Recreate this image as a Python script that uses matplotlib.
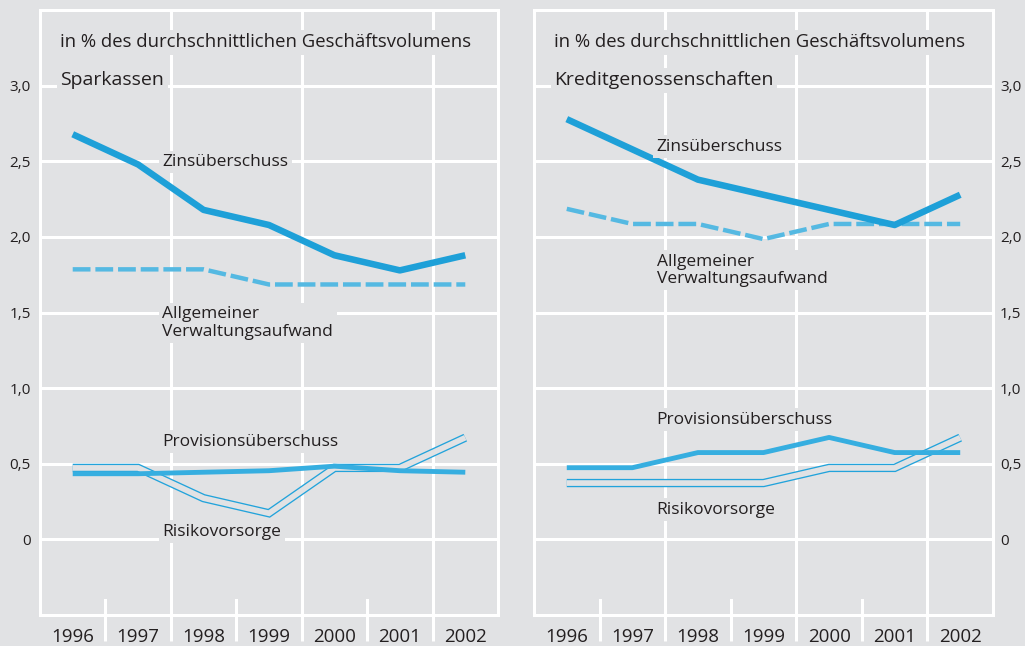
import matplotlib.pyplot as plt
from matplotlib.transforms import ScaledTranslation

plt.rcParams['font.family'] = ['Open Sans', 'DejaVu Sans']

years = [1996, 1997, 1998, 1999, 2000, 2001, 2002]

# Sparkassen
spk_zins = [2.7, 2.5, 2.2, 2.1, 1.9, 1.8, 1.9]
spk_verw = [1.8, 1.8, 1.8, 1.7, 1.7, 1.7, 1.7]
spk_prov = [0.45, 0.45, 0.46, 0.47, 0.5, 0.47, 0.46]
spk_risk = [0.5, 0.5, 0.3, 0.2, 0.5, 0.5, 0.7]

# Kreditgenossenschaften
kg_zins = [2.8, 2.6, 2.4, 2.3, 2.2, 2.1, 2.3]
kg_verw = [2.2, 2.1, 2.1, 2.0, 2.1, 2.1, 2.1]
kg_prov = [0.49, 0.49, 0.59, 0.59, 0.69, 0.59, 0.59]
kg_risk = [0.4, 0.4, 0.4, 0.4, 0.5, 0.5, 0.7]

yticks = [0, 0.5, 1.0, 1.5, 2.0, 2.5, 3.0]
ytick_labels = ['0', '0,5', '1,0', '1,5', '2,0', '2,5', '3,0']
header = 'in % des durchschnittlichen Geschäftsvolumens'

BG = '#e1e2e4'
TXT = '#231f20'
C_ZINS = '#1ea0d8'
C_VERW = '#55b9e2'
C_PROV = '#36aee0'
C_RISK = '#22a3db'

fig = plt.figure(figsize=(10.25, 6.46), dpi=100)
fig.patch.set_facecolor(BG)

W, H = 1025, 646
ax_l = fig.add_axes([40 / W, (H - 615) / H, 458 / W, 605 / H])
ax_r = fig.add_axes([534 / W, (H - 615) / H, 459 / W, 605 / H])


def below(ax, lw):
    # shift a line down so its upper edge sits on the value
    return ax.transData + ScaledTranslation(0, -lw / 2 / 72, fig.dpi_scale_trans)


def panel(ax, title, zins, verw, prov, risk, lab_y, side):
    ax.set_facecolor(BG)
    ax.set_xlim(1995.5, 2002.5)
    ax.set_ylim(-0.5, 3.5)
    for s in ax.spines.values():
        s.set_color('white')
        s.set_linewidth(2.2)
    for y in yticks:
        ax.axhline(y, color='white', lw=2.2, zorder=1)
    for x in [1997.5, 1999.5, 2001.5]:
        ax.axvline(x, color='white', lw=2.2, zorder=1)
    for x in [1996.5, 1998.5, 2000.5]:
        ax.axvline(x, ymin=0, ymax=15 / 605, color='white', lw=2.2, zorder=1)

    ax.set_xticks(years)
    ax.set_xticklabels([str(y) for y in years])
    ax.set_xticks([y + 0.5 for y in years[:-1]], minor=True)
    ax.tick_params(axis='x', which='major', length=0, pad=9, labelsize=13.5, colors=TXT)
    ax.tick_params(axis='x', which='minor', direction='out', length=19, width=2.2, color='white')

    ax.set_yticks(yticks)
    ax.set_yticklabels(ytick_labels)
    if side == 'left':
        ax.tick_params(axis='y', length=0, pad=6.5, labelsize=11, colors=TXT)
    else:
        ax.yaxis.tick_right()
        ax.tick_params(axis='y', length=0, pad=5, labelsize=11, colors=TXT)

    # Risikovorsorge: double thin line
    ax.plot(years, risk, color=C_RISK, lw=6.0, transform=below(ax, 6.0),
            solid_joinstyle='miter', solid_capstyle='butt', zorder=3)
    ax.plot(years, risk, color=BG, lw=4.1, transform=below(ax, 6.0),
            solid_joinstyle='miter', solid_capstyle='butt', zorder=3)
    ax.plot(years, prov, color=C_PROV, lw=3.5, transform=below(ax, 3.5),
            solid_capstyle='butt', zorder=4)
    ax.plot(years, verw, color=C_VERW, lw=3.2, dashes=(4, 1.1),
            transform=below(ax, 3.2), zorder=4)
    ax.plot(years, zins, color=C_ZINS, lw=4.7, transform=below(ax, 4.7),
            solid_capstyle='butt', zorder=5)

    box = dict(facecolor=BG, edgecolor='none', pad=2.5)
    ax.text(0.044, 0.947, header, transform=ax.transAxes, fontsize=13.3,
            color=TXT, va='center', ha='left', bbox=box, zorder=6)
    ax.text(0.044, 0.884, title, transform=ax.transAxes, fontsize=14,
            color=TXT, va='center', ha='left', bbox=box, zorder=6)

    lx = 1997.37
    names = ['Zinsüberschuss', 'Allgemeiner\nVerwaltungsaufwand',
             'Provisionsüberschuss', 'Risikovorsorge']
    for name, y in zip(names, lab_y):
        ax.text(lx, y, name, fontsize=12.5, color=TXT, va='center', ha='left',
                linespacing=1.1, bbox=box, zorder=6)


panel(ax_l, 'Sparkassen', spk_zins, spk_verw, spk_prov, spk_risk,
      [2.495, 1.43, 0.645, 0.05], 'left')
panel(ax_r, 'Kreditgenossenschaften', kg_zins, kg_verw, kg_prov, kg_risk,
      [2.595, 1.78, 0.79, 0.195], 'right')

fig.savefig('out.png', dpi=100, facecolor=BG)
